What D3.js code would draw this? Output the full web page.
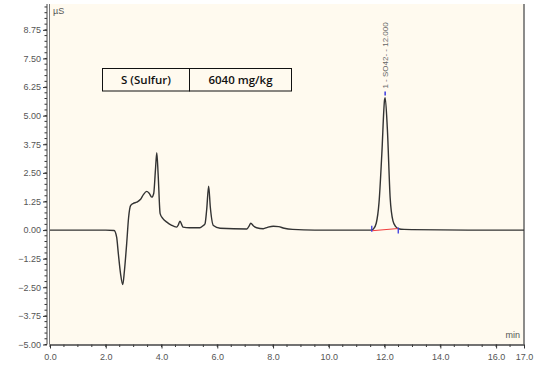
<!DOCTYPE html>
<html>
<head>
<meta charset="utf-8">
<script src="https://cdn.jsdelivr.net/npm/d3@7"></script>
<style>
  body { margin: 0; background: #fff; }
  text { font-family: "Liberation Sans", Arial, sans-serif; }
</style>
</head>
<body>
<script>
// chromatogram trace (time in min, signal in µS)
var times = [0, 1.0, 2.0, 2.3, 2.39, 2.45, 2.53, 2.61, 2.67, 2.75, 2.82, 2.89, 2.99, 3.11, 3.25, 3.35, 3.47, 3.55, 3.65, 3.72, 3.78, 3.83, 3.88, 3.95, 4.05, 4.19, 4.35, 4.54, 4.6, 4.66, 4.72, 4.77, 5.0, 5.38, 5.5, 5.56, 5.62, 5.69, 5.75, 5.86, 6.1, 7.06, 7.15, 7.2, 7.3, 7.41, 7.65, 7.8, 8.01, 8.2, 8.4, 8.7, 9.5, 11.5, 11.6, 11.7, 11.8, 11.9, 12.0, 12.02, 12.1, 12.2, 12.3, 12.4, 12.5, 12.7, 13.0, 15.0, 17.0];
var signal = [0, 0, 0, -0.02, -0.31, -1.02, -1.9, -2.38, -1.77, -0.59, 0.56, 1.07, 1.17, 1.22, 1.35, 1.55, 1.69, 1.62, 1.44, 1.6, 2.6, 3.38, 2.4, 0.72, 0.5, 0.35, 0.22, 0.13, 0.22, 0.39, 0.25, 0.13, 0.1, 0.1, 0.2, 0.28, 0.9, 1.92, 1.0, 0.2, 0.08, 0.05, 0.2, 0.3, 0.18, 0.1, 0.06, 0.12, 0.17, 0.15, 0.08, 0.03, 0.0, 0.0, 0.05, 0.3, 1.2, 3.3, 5.7, 5.79, 4.4, 1.4, 0.4, 0.15, 0.06, 0.03, 0.02, 0.0, 0.0];

// integrated peak
var peakLabel = "1 - SO42- - 12.000";
var peakTime = 12.02, peakHeight = 5.79;
var baseStart = [11.54, -0.03], baseEnd = [12.49, 0.07];

// annotation table
var tableCells = ["S (Sulfur)", "6040 mg/kg"];

var yTicks = [-5.00, -3.75, -2.50, -1.25, 0.00, 1.25, 2.50, 3.75, 5.00, 6.25, 7.50, 8.75];
var xTicks = [0, 2, 4, 6, 8, 10, 12, 14, 16, 17];

var width = 550, height = 367;
var pLeft = 50, pRight = 524, pTop = 4, pBottom = 344.5;

var svg = d3.select('body').append('svg').attr('width', width).attr('height', height);

var x = d3.scaleLinear().domain([0, 17]).range([pLeft, pRight]);
var y = d3.scaleLinear().domain([-5, 9.88]).range([pBottom, pTop]);

// plot background
svg.append('rect').attr('x', pLeft).attr('y', pTop)
  .attr('width', pRight - pLeft).attr('height', pBottom - pTop)
  .attr('fill', '#fffaef');

// right border
svg.append('line').attr('x1', pRight).attr('x2', pRight).attr('y1', pTop).attr('y2', pBottom)
  .attr('stroke', '#666').attr('stroke-width', 1.5);
// inner left line
svg.append('line').attr('x1', pLeft - 0.5).attr('x2', pLeft - 0.5).attr('y1', pTop).attr('y2', pBottom)
  .attr('stroke', '#777').attr('stroke-width', 1);

// y axis
var yMinor = d3.range(-5, 9.8, 0.25);
var yg = svg.append('g').attr('transform', 'translate(' + (pLeft - 3) + ',0)');
yg.selectAll('line.minor').data(yMinor).enter().append('line')
  .attr('x1', -2.5).attr('x2', 0).attr('y1', d => y(d)).attr('y2', d => y(d))
  .attr('stroke', '#333').attr('stroke-width', 1);
yg.call(d3.axisLeft(y).tickValues(yTicks).tickFormat(d3.format('.2f')).tickSize(4).tickSizeOuter(0));
yg.select('.domain').attr('d', 'M0,' + pTop + 'V' + pBottom).attr('stroke', '#444');
yg.selectAll('.tick line').attr('stroke', '#333');
yg.selectAll('.tick text').attr('fill', '#555').attr('font-size', 9).attr('x', -6);

// x axis
var xMinor = d3.range(0, 17, 0.5);
var xg = svg.append('g').attr('transform', 'translate(0,' + pBottom + ')');
xg.selectAll('line.minor').data(xMinor).enter().append('line')
  .attr('x1', d => x(d)).attr('x2', d => x(d)).attr('y1', 0).attr('y2', 2.5)
  .attr('stroke', '#333');
xg.call(d3.axisBottom(x).tickValues(xTicks).tickFormat(d3.format('.1f')).tickSize(4).tickSizeOuter(0));
xg.select('.domain').attr('stroke', '#444').attr('stroke-width', 1.5);
xg.selectAll('.tick line').attr('stroke', '#333');
xg.selectAll('.tick text').attr('fill', '#555').attr('font-size', 9).attr('dy', '0.9em');

// axis units
svg.append('text').attr('x', 53).attr('y', 14).attr('font-size', 9).attr('fill', '#555').text('µS');
svg.append('text').attr('x', 520).attr('y', 338).attr('text-anchor', 'end')
  .attr('font-size', 9).attr('fill', '#555').text('min');

// trace
var pts = times.map((t, i) => [t, signal[i]]);
var line = d3.line().x(d => x(d[0])).y(d => y(d[1])).curve(d3.curveMonotoneX);
svg.append('path').attr('d', line(pts)).attr('fill', 'none')
  .attr('stroke', '#333').attr('stroke-width', 1.4);

// baseline of integrated peak
svg.append('line').attr('x1', x(baseStart[0])).attr('y1', y(baseStart[1]))
  .attr('x2', x(baseEnd[0])).attr('y2', y(baseEnd[1]))
  .attr('stroke', '#f03c3c').attr('stroke-width', 1.2);
svg.append('line').attr('x1', x(baseStart[0])).attr('x2', x(baseStart[0]))
  .attr('y1', y(baseStart[1]) - 5).attr('y2', y(baseStart[1]) + 1)
  .attr('stroke', '#3a3ae0').attr('stroke-width', 1.3);
svg.append('line').attr('x1', x(baseEnd[0])).attr('x2', x(baseEnd[0]))
  .attr('y1', y(baseEnd[1]) - 1).attr('y2', y(baseEnd[1]) + 5)
  .attr('stroke', '#3a3ae0').attr('stroke-width', 1.3);

// peak marker and label
svg.append('line').attr('x1', x(peakTime)).attr('x2', x(peakTime))
  .attr('y1', y(peakHeight) - 6).attr('y2', y(peakHeight) - 2)
  .attr('stroke', '#3a3ae0').attr('stroke-width', 1.5);
svg.append('text')
  .attr('transform', 'translate(' + (x(peakTime) + 3) + ',' + (y(peakHeight) - 9) + ') rotate(-90)')
  .attr('font-size', 8).attr('fill', '#666').text(peakLabel);

// table
var tx = 102.5, ty = 68.5, tw = [87, 102], th = 22.5;
var tg = svg.append('g');
tableCells.forEach(function(c, i){
  var cx = tx + (i ? tw[0] : 0);
  tg.append('rect').attr('x', cx).attr('y', ty).attr('width', tw[i]).attr('height', th)
    .attr('fill', 'none').attr('stroke', '#111').attr('stroke-width', 1);
  tg.append('text').attr('x', cx + tw[i] / 2).attr('y', ty + th / 2 + 4)
    .attr('text-anchor', 'middle').attr('font-size', 11.5).attr('font-weight', 600)
    .style('font-family', '"Open Sans", sans-serif').attr('fill', '#111').text(c);
});
</script>
</body>
</html>
